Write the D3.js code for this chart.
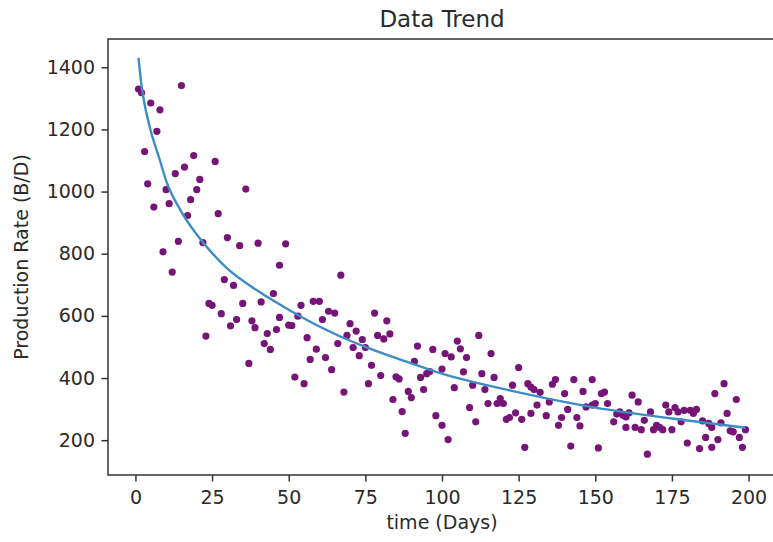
<!DOCTYPE html>
<html>
<head>
<meta charset="utf-8">
<script src="https://cdn.jsdelivr.net/npm/d3@7"></script>
<style>
  body { margin: 0; background: #fff; }
  svg { display: block; font-family: "DejaVu Sans", sans-serif; }
</style>
</head>
<body>
<svg id="chart" width="773" height="542"></svg>
<script>
let observed = [
  [1,1330],[2,1318],[15,1341],[5,1285],[8,1263],[7,1194],[3,1129],[19,1116],[16,1079],[26,1097],
  [13,1058],[21,1039],[4,1025],[20,1006],[10,1006],[36,1008],[18,974],[11,961],[6,950],[17,923],
  [27,929],[14,840],[22,836],[30,852],[34,826],[40,834],[9,806],[12,741],[29,717],[32,698],
  [45,672],[47,763],[24,640],[25,634],[35,640],[41,645],[28,607],[33,588],[31,568],[38,584],
  [39,562],[47,595],[46,556],[43,543],[23,535],[42,511],[44,492],[37,447],
  [49,832],[67,731],[54,634],[58,647],[60,647],[63,615],[65,609],[53,599],[61,588],[50,570],
  [51,569],[56,530],[70,575],[72,551],[69,537],[74,524],[66,511],[59,493],[71,498],[75,498],
  [73,472],[57,460],[62,466],[64,427],[52,403],[55,382],[68,355],[78,609],[82,584],[79,537],
  [81,526],[83,542],[77,441],[80,408],[76,382],[85,404],[86,397],[91,454],[92,503],[97,492],
  [101,479],[100,429],[95,414],[96,421],[93,402],[94,363],[89,357],[90,337],[84,331],[87,292],
  [88,222],[98,279],[100,248],[102,202],
  [105,519],[106,494],[103,468],[108,466],[112,537],[116,479],[107,420],[113,414],[117,402],[104,369],
  [110,377],[114,363],[109,305],[111,259],[115,318],[119,334],[120,318],[118,318],[121,267],[122,273],
  [124,288],[126,267],[125,434],[123,377],[128,382],[129,371],[130,363],[132,354],[129,286],[131,313],
  [127,177],[134,279],[135,323],[136,380],[137,395],[140,350],[141,299],[139,273],[138,248],[143,395],
  [144,273],[145,246],[142,181],[146,357],[147,307],[149,313],[150,318],[149,395],[152,350],[153,355],
  [154,318],[156,259],[157,284],[158,291],[151,175],
  [159,280],[160,275],[161,288],[160,241],[163,241],[165,234],[162,345],[164,323],[166,264],[167,155],
  [168,291],[169,234],[170,248],[171,241],[172,234],[173,313],[174,291],[175,234],[176,305],[177,291],
  [178,259],[179,296],[180,191],[181,296],[182,286],[183,299],[184,173],[185,262],[187,254],[188,241],
  [186,209],[188,177],[190,202],[189,350],[191,256],[192,382],[193,286],[194,230],[195,227],[196,331],
  [197,209],[198,177],[199,234]
];

// fitted decline curve
let fitted = [
  [1,1430],[2,1340],[3,1280],[4,1235],[5,1195],[8,1100],[10,1035],[15,935],[20,862],[25,802],
  [30,752],[40,680],[50,620],[60,566],[75,500],[90,447],[100,414],[125,354],[150,305],[175,270],[199,240]
];

let xTicks = [0, 25, 50, 75, 100, 125, 150, 175, 200];
let yTicks = [200, 400, 600, 800, 1000, 1200, 1400];

let svg = d3.select("#chart");
let box = { left: 108, right: 776, top: 39, bottom: 475 };

let xScale = d3.scaleLinear()
  .domain([-8.95, 208.95])
  .range([box.left, box.right]);
let yScale = d3.scaleLinear()
  .domain([88, 1491])
  .range([box.bottom, box.top]);

// scatter first, line on top (matplotlib zorder)
svg.append("g")
  .selectAll("circle")
  .data(observed)
  .enter()
  .append("circle")
    .attr("cx", d => xScale(d[0]))
    .attr("cy", d => yScale(d[1]))
    .attr("r", 3.6)
    .style("fill", "#761478");

let line = d3.line()
  .x(d => xScale(d[0]))
  .y(d => yScale(d[1]))
  .curve(d3.curveMonotoneX);

svg.append("path")
  .datum(fitted)
  .attr("d", line)
  .style("fill", "none")
  .style("stroke", "#3d8cc4")
  .style("stroke-width", 2.4);

// axes
let xAxis = svg.append("g")
  .attr("transform", "translate(0," + box.bottom + ")")
  .call(d3.axisBottom(xScale).tickValues(xTicks).tickFormat(d3.format("d")).tickSize(6.5).tickPadding(9));
let yAxis = svg.append("g")
  .attr("transform", "translate(" + box.left + ",0)")
  .call(d3.axisLeft(yScale).tickValues(yTicks).tickFormat(d3.format("d")).tickSize(6.5).tickPadding(6.5));

for (let ax of [xAxis, yAxis]) {
  ax.select(".domain").remove();
  ax.selectAll("line").style("stroke", "#333").style("stroke-width", 1.5);
  ax.selectAll("text")
    .style("font-family", "DejaVu Sans")
    .style("font-size", "19px")
    .style("fill", "#2a2a2a");
}

// spines
svg.append("rect")
  .attr("x", box.left)
  .attr("y", box.top)
  .attr("width", box.right - box.left)
  .attr("height", box.bottom - box.top)
  .style("fill", "none")
  .style("stroke", "#333")
  .style("stroke-width", 1.5);

// titles
let midX = (box.left + box.right) / 2;
svg.append("text")
  .attr("x", midX)
  .attr("y", 27)
  .attr("text-anchor", "middle")
  .style("font-size", "23px")
  .style("fill", "#2a2a2a")
  .text("Data Trend");

svg.append("text")
  .attr("x", midX)
  .attr("y", 529)
  .attr("text-anchor", "middle")
  .style("font-size", "19px")
  .style("fill", "#2a2a2a")
  .text("time (Days)");

svg.append("text")
  .attr("transform", "translate(28," + (box.top + box.bottom) / 2 + ") rotate(-90)")
  .attr("text-anchor", "middle")
  .style("font-size", "19px")
  .style("fill", "#2a2a2a")
  .text("Production Rate (B/D)");
</script>
</body>
</html>
